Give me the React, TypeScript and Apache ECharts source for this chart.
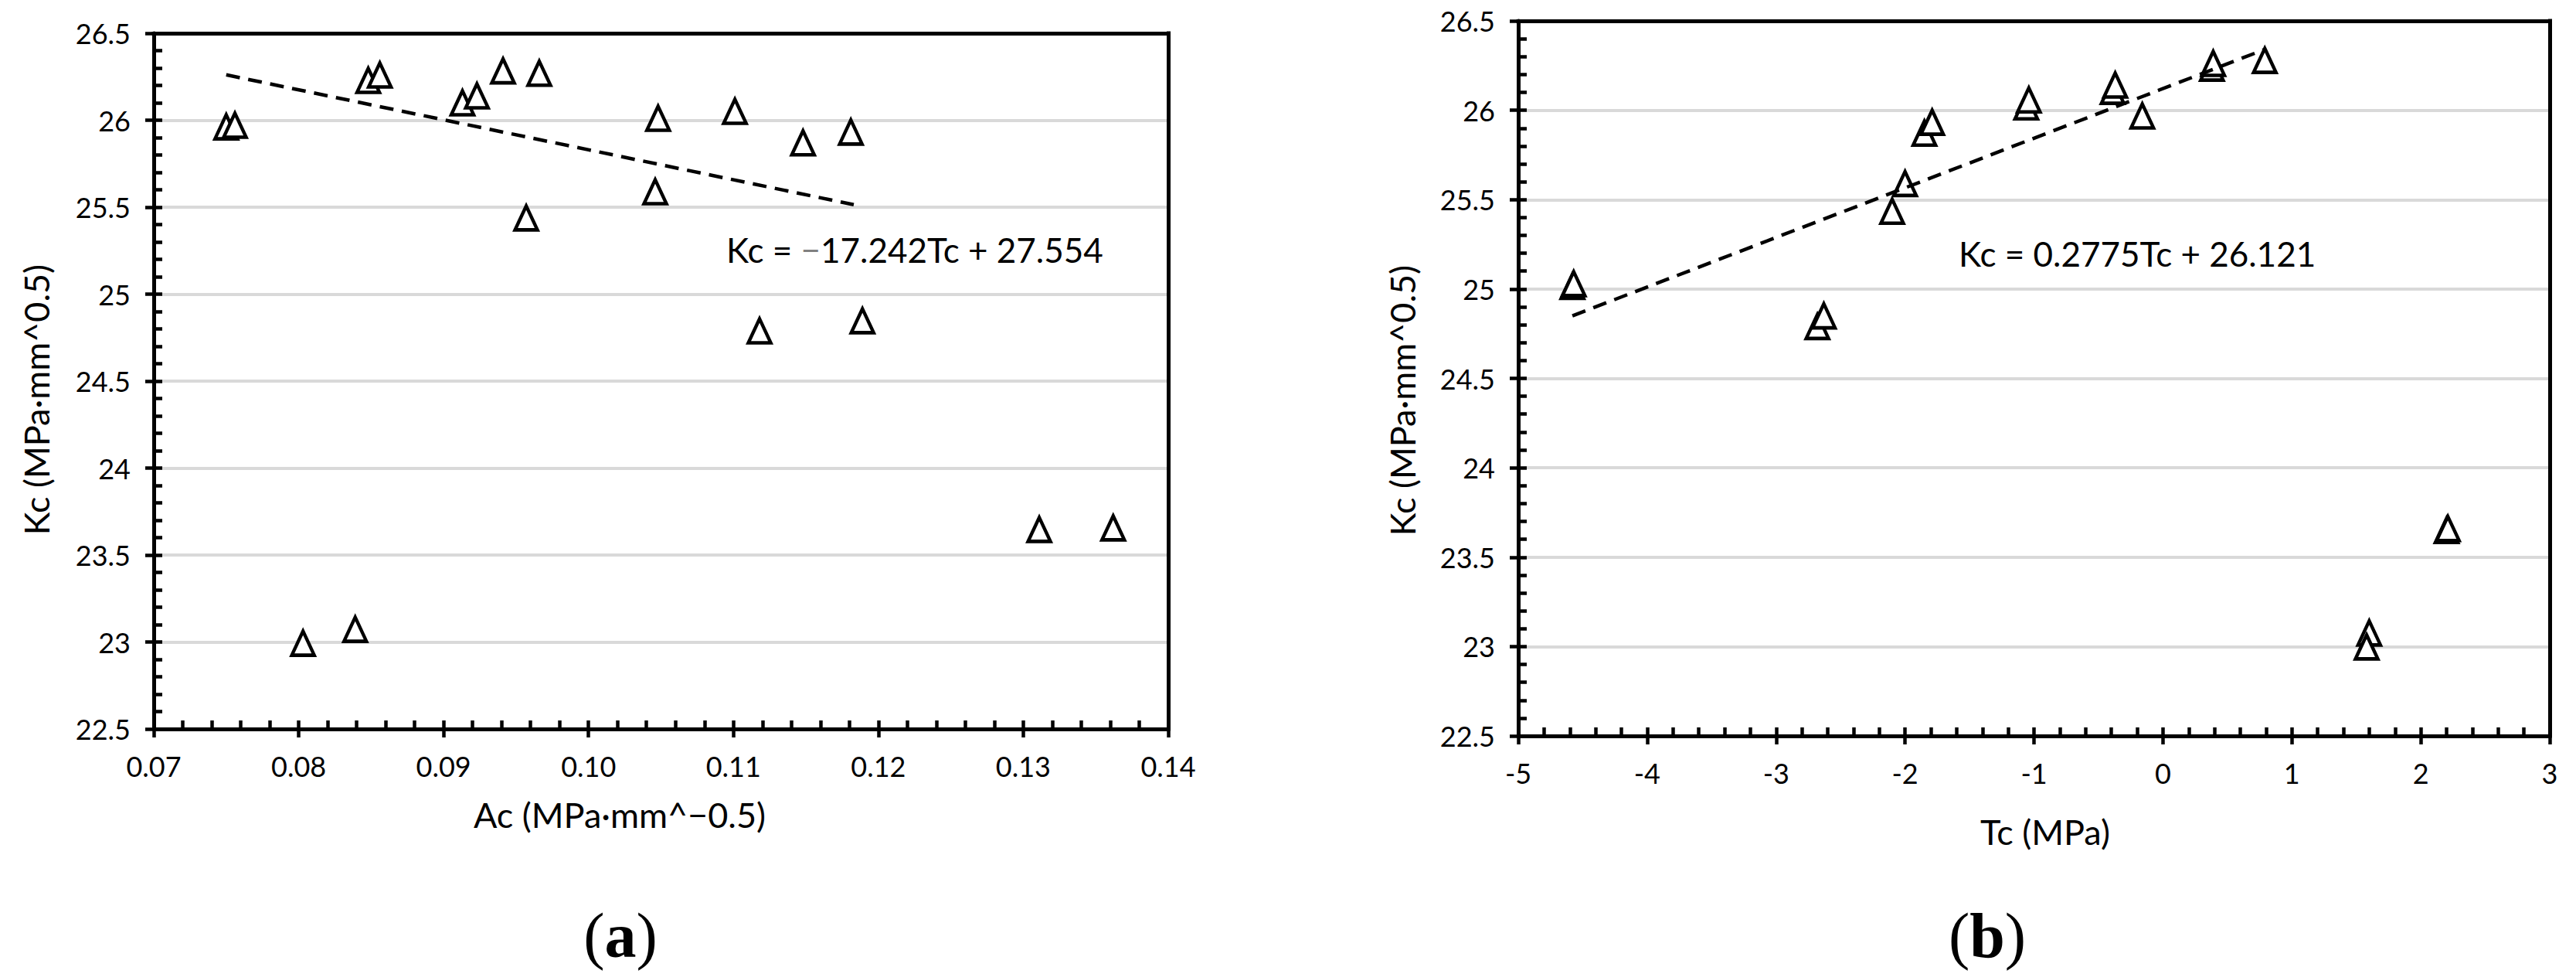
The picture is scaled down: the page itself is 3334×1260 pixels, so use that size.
import React, { useEffect, useRef } from "react";
import * as echarts from "echarts";

// ---- Data (a): Ac vs Kc ----
const acValues = [
  0.075, 0.0756, 0.0848, 0.0856, 0.0913, 0.0923, 0.0941, 0.0966, 0.0957, 0.1048,
  0.1101, 0.1148, 0.1181, 0.1046, 0.1118, 0.1189, 0.0803, 0.0839, 0.1311, 0.1362,
];
const kcValuesA = [
  25.962, 25.971, 26.229, 26.26, 26.1, 26.14, 26.284, 26.27, 25.438, 26.011,
  26.051, 25.87, 25.932, 25.589, 24.789, 24.847, 22.993, 23.073, 23.647, 23.656,
];
// ---- Data (b): Tc vs Kc ----
const tcValues = [
  -4.58, -4.57, -2.68, -2.63, -2.1, -2.0, -1.85, -1.79, -1.06, -1.04,
  -0.39, -0.37, -0.16, 0.38, 0.39, 0.79, 2.2, 2.21, 1.6, 1.58,
];
const kcValuesB = [
  25.015, 25.03, 24.79, 24.85, 25.435, 25.59, 25.872, 25.933, 26.019, 26.058,
  26.106, 26.141, 25.968, 26.236, 26.262, 26.279, 23.65, 23.66, 23.076, 22.998,
];

// trendlines: [slope, intercept], [xFrom, xTo]
const trendA = [-17.242, 27.554];
const trendARange = [0.075, 0.1183];
const trendB = [0.2775, 26.121];
const trendBRange = [-4.58, 0.79];

const yRange = [22.5, 26.5];
const yStep = 0.5;
const xRangeA = [0.07, 0.14];
const xStepA = 0.01;
const xRangeB = [-5, 3];
const xStepB = 1;

const eqA = ["Kc = ", "\u2212", "17.242Tc + 27.554"];
const eqB = "Kc = 0.2775Tc + 26.121";
const yTitle = "Kc (MPa\u00b7mm^0.5)";
const xTitleA = "Ac (MPa\u00b7mm^\u22120.5)";
const xTitleB = "Tc (MPa)";

const SANS = "Lato";
const TITLE_FONT = "Lato";

function mainX(gridIndex: number, range: number[], step: number, fmt?: (v: number) => string) {
  return {
    type: "value",
    gridIndex,
    min: range[0],
    max: range[1],
    interval: step,
    position: "bottom",
    z: 1,
    axisLine: { show: true, onZero: false, lineStyle: { color: "#000", width: 5 } },
    axisTick: { show: true, inside: true, length: 11, lineStyle: { color: "#000", width: 4.5 } },
    minorTick: { show: true, splitNumber: 5, length: 11, lineStyle: { color: "#000", width: 4.5 } },
    axisLabel: {
      show: true,
      margin: 30,
      fontFamily: SANS,
      fontSize: 36,
      color: "#000",
      formatter: fmt,
    },
    splitLine: { show: false },
    minorSplitLine: { show: false },
  };
}
function outerX(gridIndex: number, range: number[], step: number) {
  return {
    type: "value",
    gridIndex,
    min: range[0],
    max: range[1],
    interval: step,
    position: "bottom",
    z: 1,
    axisLine: { show: false, onZero: false },
    axisTick: { show: true, inside: false, length: 11, lineStyle: { color: "#000", width: 4.5 } },
    axisLabel: { show: false },
    splitLine: { show: false },
  };
}
function frameX(gridIndex: number, range: number[]) {
  return {
    type: "value",
    gridIndex,
    min: range[0],
    max: range[1],
    position: "top",
    z: 6,
    axisLine: { show: true, onZero: false, lineStyle: { color: "#000", width: 5, cap: "square" } },
    axisTick: { show: false },
    axisLabel: { show: false },
    splitLine: { show: false },
  };
}
function mainY(gridIndex: number) {
  return {
    type: "value",
    gridIndex,
    min: yRange[0],
    max: yRange[1],
    interval: yStep,
    position: "left",
    z: 1,
    axisLine: { show: true, onZero: false, lineStyle: { color: "#000", width: 5 } },
    axisTick: { show: true, inside: true, length: 11, lineStyle: { color: "#000", width: 4.5 } },
    minorTick: { show: true, splitNumber: 5, length: 11, lineStyle: { color: "#000", width: 4.5 } },
    axisLabel: { show: true, margin: 30, fontFamily: SANS, fontSize: 36, color: "#000" },
    splitLine: { show: true, showMinLine: false, showMaxLine: false, lineStyle: { color: "#d9d9d9", width: 4 } },
  };
}
function outerY(gridIndex: number) {
  return {
    type: "value",
    gridIndex,
    min: yRange[0],
    max: yRange[1],
    interval: yStep,
    position: "left",
    z: 1,
    axisLine: { show: false, onZero: false },
    axisTick: { show: true, inside: false, length: 11, lineStyle: { color: "#000", width: 4.5 } },
    axisLabel: { show: false },
    splitLine: { show: false },
  };
}
function frameY(gridIndex: number) {
  return {
    type: "value",
    gridIndex,
    min: yRange[0],
    max: yRange[1],
    position: "right",
    z: 6,
    axisLine: { show: true, onZero: false, lineStyle: { color: "#000", width: 5, cap: "square" } },
    axisTick: { show: false },
    axisLabel: { show: false },
    splitLine: { show: false },
  };
}

function scatter(xs: number[], ys: number[], axisIdx: number) {
  return {
    type: "scatter",
    xAxisIndex: axisIdx,
    yAxisIndex: axisIdx,
    data: xs.map((x, i) => [x, ys[i]]),
    symbol: "triangle",
    symbolSize: [29, 31],
    itemStyle: { color: "#fff", borderColor: "#000", borderWidth: 4.5, opacity: 1 },
    silent: true,
    z: 3,
  };
}
function trend(coef: number[], range: number[], axisIdx: number) {
  return {
    type: "line",
    xAxisIndex: axisIdx,
    yAxisIndex: axisIdx,
    data: range.map((x) => [x, coef[0] * x + coef[1]]),
    symbol: "none",
    lineStyle: { color: "#000", width: 4.5, type: [18, 11] },
    silent: true,
    z: 4,
  };
}

export default function App() {
  const ref = useRef<HTMLDivElement>(null);
  useEffect(() => {
    if (!ref.current) return;
    const chart = echarts.init(ref.current, undefined, { renderer: "svg" });
    const rot = Math.PI / 2;
    chart.setOption({
      animation: false,
      backgroundColor: "#fff",
      grid: [
        { left: 199, top: 43, width: 1313, height: 900, show: false, containLabel: false },
        { left: 1965, top: 27, width: 1335, height: 925, show: false, containLabel: false },
      ],
      xAxis: [
        mainX(0, xRangeA, xStepA, (v: number) => v.toFixed(2)),
        mainX(1, xRangeB, xStepB),
        outerX(0, xRangeA, xStepA),
        outerX(1, xRangeB, xStepB),
        frameX(0, xRangeA),
        frameX(1, xRangeB),
      ],
      yAxis: [mainY(0), mainY(1), outerY(0), outerY(1), frameY(0), frameY(1)],
      series: [
        scatter(acValues, kcValuesA, 0),
        trend(trendA, trendARange, 0),
        scatter(tcValues, kcValuesB, 1),
        trend(trendB, trendBRange, 1),
      ],
      graphic: [
        {
          type: "text", x: 47, y: 517, rotation: rot,
          style: { text: yTitle, font: `45px ${TITLE_FONT}`, fill: "#000", align: "center", verticalAlign: "middle" },
        },
        {
          type: "text", x: 1815, y: 518, rotation: rot,
          style: { text: yTitle, font: `45px ${TITLE_FONT}`, fill: "#000", align: "center", verticalAlign: "middle" },
        },
        {
          type: "text", x: 802, y: 1054,
          style: { text: xTitleA, font: `45px ${TITLE_FONT}`, fill: "#000", align: "center", verticalAlign: "middle" },
        },
        {
          type: "text", x: 2647, y: 1076,
          style: { text: xTitleB, font: `45px ${TITLE_FONT}`, fill: "#000", align: "center", verticalAlign: "middle" },
        },
        {
          type: "text", x: 940, y: 323, z: 10,
          style: {
            text: `{k|${eqA[0]}}{m|${eqA[1]}}{k|${eqA[2]}}`,
            align: "left", verticalAlign: "middle",
            rich: {
              k: { fontFamily: SANS, fontSize: 44, fill: "#000" },
              m: { fontFamily: SANS, fontSize: 44, fill: "#808080" },
            },
          },
        },
        {
          type: "text", x: 2535, y: 328, z: 10,
          style: { text: eqB, font: `44px ${SANS}`, fill: "#000", align: "left", verticalAlign: "middle" },
        },
        {
          type: "text", x: 803, y: 1210,
          style: {
            text: "{n|(}{b|a}{n|)}", align: "center", verticalAlign: "middle",
            rich: {
              n: { fontFamily: "Liberation Serif", fontSize: 82, fill: "#000" },
              b: { fontFamily: "Liberation Serif", fontSize: 82, fontWeight: "bold", fill: "#000" },
            },
          },
        },
        {
          type: "text", x: 2572, y: 1210,
          style: {
            text: "{n|(}{b|b}{n|)}", align: "center", verticalAlign: "middle",
            rich: {
              n: { fontFamily: "Liberation Serif", fontSize: 82, fill: "#000" },
              b: { fontFamily: "Liberation Serif", fontSize: 82, fontWeight: "bold", fill: "#000" },
            },
          },
        },
      ],
    });
    return () => chart.dispose();
  }, []);
  return (
    <div
      ref={ref}
      style={{ position: "fixed", left: 0, top: 0, width: 3334, height: 1260, background: "#fff" }}
    />
  );
}
